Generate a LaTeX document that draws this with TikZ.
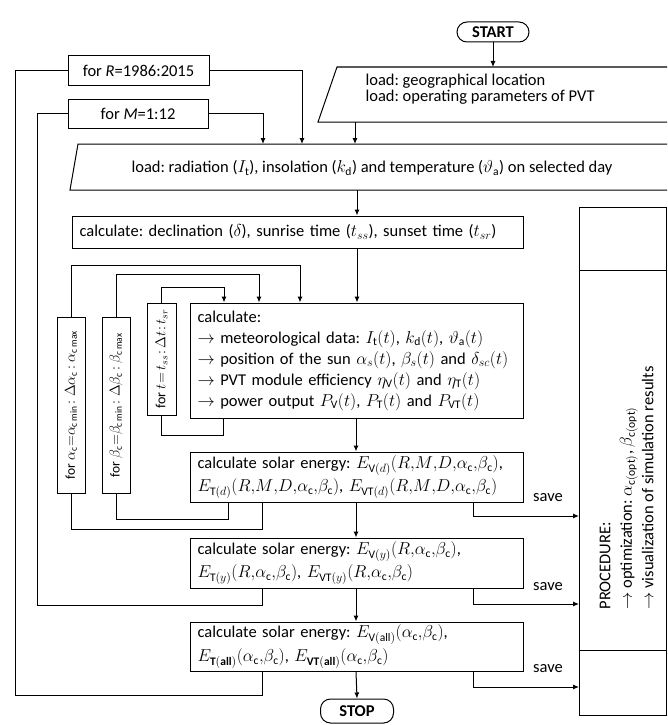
\documentclass[tikz,border=0pt]{standalone}
\usepackage{fontspec}
\setmainfont{Carlito}
\usetikzlibrary{arrows.meta}
\newcommand{\cm}{\mathpunct{}{,}}
\begin{document}
\begin{tikzpicture}[x=1pt,y=-1pt,
  every node/.style={font=\fontsize{16.5}{16}\selectfont\frenchspacing},
  box/.style={draw, line width=1pt, inner sep=0pt},
  tbox/.style={box, align=left, inner xsep=7.5pt},
  term/.style={draw, line width=1pt, rounded corners=10pt, inner sep=0pt, font=\fontsize{16.5}{16}\selectfont\bfseries},
  ln/.style={line width=1pt},
  arr/.style={ln, -{Latex[length=6pt,width=5pt]}},
  vtxt/.style={font=\fontsize{13.5}{14}\selectfont},
]
\useasboundingbox (0,0) rectangle (668,725);
\clip (0,0) rectangle (667,725);

% terminals
\node[term, minimum width=72, minimum height=20] (start) at (493,32) {START};
\node[term, minimum width=73, minimum height=24] (stop) at (357,711) {STOP};

% input parallelograms
\draw[ln] (337,67) -- (720,67) -- (701,122) -- (318,122) -- cycle;
\node[anchor=west, align=left] (l1txt) at (362,89) {load: geographical location\\load: operating parameters of PVT};
\coordinate (l1in) at (493,67);
\coordinate (l1out) at (355,122);
\draw[ln] (78,144) -- (720,144) -- (712,190) -- (70,190) -- cycle;
\node[anchor=west] (l2txt) at (128,168) {load: radiation ($I_\mathrm{t}$), insolation ($k_\mathrm{d}$) and temperature ($\vartheta_\mathrm{a}$) on selected day};
\coordinate (l2R) at (302,144);
\coordinate (l2M) at (263,144);
\coordinate (l2a) at (355,144);
\coordinate (l2b) at (357,190);

% loop headers
\node[box, minimum width=141, minimum height=29] (forR) at (138.5,70.5) {for \textit{R}=1986:2015};
\node[box, minimum width=140, minimum height=29] (forM) at (138,113.5) {for \textit{M}=1:12};

% process boxes
\node[tbox, text width=436, minimum height=32] (calc1) at (297.5,232) {calculate: declination ($\delta$), sunrise time ($t_{ss}$), sunset time ($t_{sr}$)};
\node[tbox, text width=318, minimum height=115, font=\fontsize{16.5}{21}\selectfont\frenchspacing] (calc2) at (356.5,360.5) {calculate:\\
$\rightarrow$ meteorological data: $I_\mathrm{t}(t)$, $k_\mathrm{d}(t)$, $\vartheta_\mathrm{a}(t)$\\
$\rightarrow$ position of the sun $\alpha_s(t)$, $\beta_s(t)$ and $\delta_{sc}(t)$\\
$\rightarrow$ PVT module efficiency $\eta_\mathrm{V}(t)$ and $\eta_\mathrm{T}(t)$\\
$\rightarrow$ power output $P_\mathrm{V}(t)$, $P_\mathrm{T}(t)$ and $P_\mathrm{VT}(t)$};
\node[tbox, text width=318, minimum height=50, font=\fontsize{16.5}{23}\selectfont\frenchspacing] (s1) at (356.5,477) {calculate solar energy: $E_{\mathrm{V}(d)}(R{,}M{,}D{,}\alpha_\mathrm{c}{,}\beta_\mathrm{c})$,\\
$E_{\mathrm{T}(d)}(R{,}M{,}D{,}\alpha_\mathrm{c}{,}\beta_\mathrm{c})$, $E_{\mathrm{VT}(d)}(R{,}M{,}D{,}\alpha_\mathrm{c}{,}\beta_\mathrm{c})$};
\node[tbox, text width=318, minimum height=50, font=\fontsize{16.5}{23}\selectfont\frenchspacing] (s2) at (356.5,563) {calculate solar energy: $E_{\mathrm{V}(y)}(R{,}\alpha_\mathrm{c}{,}\beta_\mathrm{c})$,\\
$E_{\mathrm{T}(y)}(R{,}\alpha_\mathrm{c}{,}\beta_\mathrm{c})$, $E_{\mathrm{VT}(y)}(R{,}\alpha_\mathrm{c}{,}\beta_\mathrm{c})$};
\node[tbox, text width=318, minimum height=49, font=\fontsize{16.5}{24}\selectfont\frenchspacing] (s3) at (356.5,646.5) {calculate solar energy: $E_{\mathrm{V(all)}}(\alpha_\mathrm{c}{,}\beta_\mathrm{c})$,\\
$E_{\mathbf{T(all)}}(\alpha_\mathrm{c}{,}\beta_\mathrm{c})$, $E_{\mathbf{VT(all)}}(\alpha_\mathrm{c}{,}\beta_\mathrm{c})$};

% vertical loop boxes
\node[box, minimum width=28, minimum height=176] (aBox) at (71,405) {\rotatebox{90}{\fontsize{13.5}{14}\selectfont for $\alpha_\mathrm{c}{=}\alpha_{\mathrm{c\,min}}\!:\Delta\alpha_\mathrm{c}\!:\alpha_{\mathrm{c\,max}}$}};
\node[box, minimum width=28, minimum height=176] (bBox) at (116,405) {\rotatebox{90}{\fontsize{13.5}{14}\selectfont for $\beta_\mathrm{c}{=}\beta_{\mathrm{c\,min}}\!:\Delta\beta_\mathrm{c}\!:\beta_{\mathrm{c\,max}}$}};
\node[box, minimum width=29, minimum height=112] (tBox) at (161.5,359) {\rotatebox{90}{\fontsize{14}{14}\selectfont for $t{=}\,t_{ss}\!:\!\Delta t\!:\!t_{sr}$}};

% procedure box
\node[box, minimum width=87, minimum height=508] (proc) at (622.5,461) {};
\coordinate (d1) at (0,270);
\coordinate (d2) at (0,650);
\draw[ln] (proc.west |- d1) -- (proc.east |- d1);
\draw[ln] (proc.west |- d2) -- (proc.east |- d2);
\node[rotate=90, anchor=west, align=left, font=\fontsize{16.5}{21.5}\selectfont\frenchspacing] (ptxt) at (626.5,613) {PROCEDURE:\\
$\rightarrow$ optimization: $\alpha_{\mathrm{c(opt)}}$, $\beta_{\mathrm{c(opt)}}$\\
$\rightarrow$ visualization of simulation results};

% main flow
\coordinate (cx) at (356,0);
\draw[arr] (start) -- (l1in);
\draw[arr] (l1out) -- (l2a);
\draw[arr] (forR.east) -| (l2R);
\draw[arr] (forM.east) -| (l2M);
\draw[arr] (l2b) -- (l2b |- calc1.north);
\draw[arr] (l2b |- calc1.south) -- (l2b |- calc2.north);
\draw[arr] (cx |- calc2.south) -- (cx |- s1.north);
\draw[arr] (cx |- s1.south) -- (cx |- s2.north);
\draw[arr] (cx |- s2.south) -- (cx |- s3.north);
\draw[arr] (cx |- s3.south) -- (stop.north);

% nested loops
\coordinate (aTop) at (300,265);
\coordinate (bTop) at (259,274);
\coordinate (tTop) at (224,287);
\draw[arr] (aBox.north) |- (aTop) -- (aTop |- calc2.north);
\draw[arr] (bBox.north) |- (bTop) -- (bTop |- calc2.north);
\draw[arr] (tBox.north) |- (tTop) -- (tTop |- calc2.north);
\coordinate (tBot) at (223,435);
\coordinate (bBot) at (228,519);
\coordinate (aBot) at (262,529);
\draw[ln] (tBox.south) |- (tBot) -- (tBot |- calc2.south);
\draw[ln] (bBox.south) |- (bBot) -- (bBot |- s1.south);
\draw[ln] (aBox.south) |- (aBot) -- (aBot |- s1.south);
\coordinate (mBot) at (262,605);
\coordinate (mL) at (37,605);
\draw[ln] (mBot |- s2.south) -- (mBot) -- (mL) |- (forM.west);
\coordinate (rBot) at (262,695);
\coordinate (rL) at (15,695);
\draw[ln] (rBot |- s3.south) -- (rBot) -- (rL) |- (forR.west);

% save connectors
\coordinate (sv) at (473,0);
\coordinate (p1) at (579,516);
\coordinate (p2) at (579,604);
\coordinate (p3) at (579,687);
\draw[arr] (sv |- s1.south) |- (p1);
\draw[arr] (sv |- s2.south) |- (p2);
\draw[arr] (sv |- s3.south) |- (p3);
\node (sav1) at (548,498) {save};
\node (sav2) at (548,587) {save};
\node (sav3) at (548,669) {save};
\end{tikzpicture}
\end{document}
